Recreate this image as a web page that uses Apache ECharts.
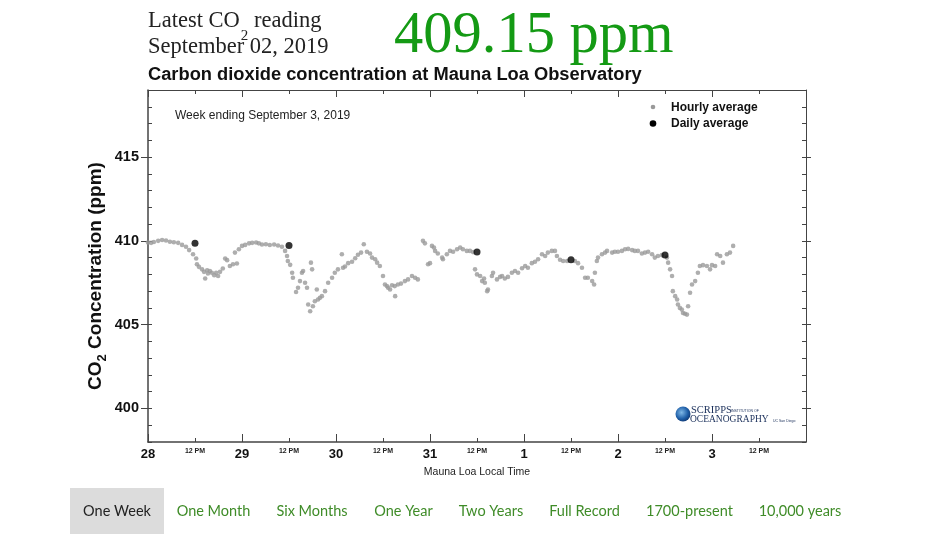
<!DOCTYPE html>
<html>
<head>
<meta charset="utf-8">
<script src="https://cdn.jsdelivr.net/npm/echarts@6/dist/echarts.min.js"></script>
<style>
html,body{margin:0;padding:0;background:#fff;}
#chart{width:925px;height:535px;}
</style>
</head>
<body>
<div id="chart"></div>
<script>
// ---- data ----
// hours since Aug 28 2019 00:00 (Mauna Loa local time)
const hourlyHours = [
 0,0.8,1.5,2.6,3.6,4.6,5.6,6.6,7.7,8.7,9.7,10.5,11.5,12.3,12.5,13.0,13.8,14.3,14.6,15.1,15.3,15.8,16.3,16.9,17.4,17.9,18.4,19.1,19.7,20.2,20.9,21.7,22.7,
 22.2,23.2,24.0,24.8,25.8,26.6,27.6,28.3,29.1,30.1,31.1,32.2,33.2,34.2,35.0,35.5,35.7,36.3,36.8,37.0,37.8,38.3,38.8,39.3,39.6,40.1,40.6,40.9,41.4,41.6,41.9,42.1,42.6,43.1,43.4,43.9,44.4,45.2,46.0,47.0,47.7,
 48.5,49.5,49.8,50.3,51.1,52.1,52.9,53.6,54.4,55.1,55.9,56.7,57.2,58.0,58.5,59.2,60.0,60.5,61.0,61.3,61.8,62.3,63.1,63.0,63.8,64.6,65.6,66.4,67.4,68.2,68.9,
 70.2,70.7,71.5,72.0,72.5,73.0,73.3,74.0,75.1,75.3,76.3,77.1,77.9,78.9,79.7,80.4,81.4,82.2,83.0,
 83.5,84.0,84.8,85.3,85.8,86.0,86.6,86.8,87.8,88.1,89.1,89.9,90.4,91.1,91.9,92.9,93.7,94.5,95.5,96.3,97.0,98.0,98.8,99.6,100.6,101.4,102.1,103.1,103.9,104.4,105.2,106.0,107.0,
 109.0,109.8,110.8,111.6,112.3,113.4,113.9,114.1,114.6,114.9,115.9,116.7,117.2,118.5,119.2,120.0,121.0,121.8,122.6,123.6,124.3,125.1,126.1,126.9,127.7,128.7,129.4,130.2,131.2,
 132.5,132.8,133.3,133.8,134.0,134.6,135.1,135.3,135.8,136.3,136.6,137.1,137.6,137.9,138.4,138.9,139.7,140.4,140.9,141.7,142.7,143.5,144.0,144.8,145.3,146.1,146.8,147.8,148.6,149.4
];
const hourlyPpm = [
 409.9,409.88,409.93,410.0,410.05,410.02,409.95,409.92,409.88,409.76,409.65,409.45,409.2,408.95,408.6,408.45,408.3,408.15,407.75,408.25,408.05,408.2,408.1,407.95,408.1,407.9,408.15,408.35,408.95,408.85,408.5,408.6,408.65,
 409.3,409.5,409.7,409.76,409.85,409.88,409.9,409.85,409.78,409.8,409.75,409.78,409.72,409.65,409.4,409.1,408.8,408.57,408.1,407.8,406.95,407.2,407.6,408.1,408.2,407.5,407.2,406.2,405.8,408.7,408.3,406.1,406.4,407.1,406.5,406.6,406.7,407.0,407.5,407.8,408.1,
 408.3,409.2,408.4,408.47,408.67,408.75,408.96,409.17,409.3,409.8,409.35,409.25,409.0,408.9,408.7,408.5,407.9,407.4,407.3,407.2,407.1,407.35,406.7,407.3,407.4,407.45,407.6,407.7,407.9,407.8,407.7,
 410.0,409.85,408.6,408.67,409.7,409.6,409.4,409.25,409.0,408.9,409.2,409.4,409.35,409.5,409.6,409.5,409.4,409.4,409.33,
 408.3,408.0,407.9,407.6,407.75,407.5,407.0,407.1,407.9,408.1,407.7,407.85,407.9,407.75,407.85,408.1,408.2,408.1,408.37,408.5,408.4,408.67,408.75,408.9,409.2,409.1,409.3,409.4,409.4,409.1,408.87,408.8,408.8,
 408.8,408.67,408.4,407.8,407.8,407.6,407.4,408.1,408.8,409.0,409.2,409.3,409.4,409.3,409.35,409.35,409.4,409.5,409.52,409.45,409.4,409.4,409.25,409.3,409.35,409.2,409.0,409.1,409.15,
 409.0,408.7,408.3,407.9,407.0,406.7,406.5,406.2,406.0,405.9,405.7,405.65,405.6,406.1,406.9,407.4,407.6,408.1,408.5,408.55,408.5,408.3,408.55,408.5,409.2,409.1,408.7,409.2,409.3,409.7
];
const dailyHours = [12, 36, 84, 108, 132];
const dailyPpm = [409.85, 409.72, 409.33, 408.87, 409.15];
const dayLabels = ['28', '29', '30', '31', '1', '2', '3'];
const yMin = 398, yMax = 419, yMajorStep = 5;
const buttons = ['One Week', 'One Month', 'Six Months', 'One Year', 'Two Years', 'Full Record', '1700-present', '10,000 years'];
const buttonCenters = [117, 213.5, 312, 403.5, 491, 584.5, 689.5, 800];

// ---- chart ----
const chart = echarts.init(document.getElementById('chart'), null, {renderer: 'canvas'});
const SANS = '"Liberation Sans", Arial, sans-serif';
const SERIF = '"Liberation Serif", "Times New Roman", serif';
const AX = '#444';

const hourlyData = hourlyHours.map((h, i) => [h, hourlyPpm[i]]);
const dailyData = dailyHours.map((h, i) => [h, dailyPpm[i]]);
const yCats = [];
for (let v = yMin; v <= yMax; v++) yCats.push(String(v));

const mctx = document.createElement('canvas').getContext('2d');
function tw(str, font) { mctx.font = font; return mctx.measureText(str).width; }

function xFmt(v) {
  if (v % 24 === 0) {
    const idx = v / 24;
    return idx < dayLabels.length ? '{d|' + dayLabels[idx] + '}' : '';
  }
  return '{s|12 PM}';
}

const HFONT = '22.5px ' + SERIF;
const SFONT = '15px ' + SERIF;
const w1 = tw('Latest CO', HFONT);
const w2 = tw('2', SFONT);

const graphics = [
  {type: 'text', x: 148, y: 21, style: {text: 'Latest CO', font: HFONT, fill: '#222', textVerticalAlign: 'middle'}},
  {type: 'text', x: 148 + w1 + 1, y: 36, style: {text: '2', font: SFONT, fill: '#222', textVerticalAlign: 'middle'}},
  {type: 'text', x: 148 + w1 + 1 + w2, y: 21, style: {text: ' reading', font: HFONT, fill: '#222', textVerticalAlign: 'middle'}},
  {type: 'text', x: 148, y: 47, style: {text: 'September 02, 2019', font: HFONT, fill: '#222', textVerticalAlign: 'middle'}},
  {type: 'text', x: 394, y: 37, style: {text: '409.15 ppm', font: '58.5px ' + SERIF, fill: '#149a14', textVerticalAlign: 'middle'}},
  {type: 'text', x: 148, y: 75, style: {text: 'Carbon dioxide concentration at Mauna Loa Observatory', font: 'bold 18.3px ' + SANS, fill: '#111', textVerticalAlign: 'middle'}},
  {type: 'text', x: 96, y: 276, rotation: Math.PI / 2,
   style: {text: 'CO{sub|2} Concentration (ppm)', font: 'bold 19px ' + SANS, fill: '#111', textAlign: 'center', textVerticalAlign: 'middle',
     rich: {sub: {fontFamily: SANS, fontWeight: 'bold', fontSize: 13, fill: '#111', padding: [12, 0, 0, 0]}}}},
  {type: 'text', x: 175, y: 116, style: {text: 'Week ending September 3, 2019', font: '12px ' + SANS, fill: '#222', textVerticalAlign: 'middle'}},
  {type: 'circle', shape: {cx: 653, cy: 107, r: 2.3}, style: {fill: '#999'}},
  {type: 'text', x: 671, y: 108, style: {text: 'Hourly average', font: 'bold 12px ' + SANS, fill: '#111', textVerticalAlign: 'middle'}},
  {type: 'circle', shape: {cx: 653, cy: 123.5, r: 3.3}, style: {fill: '#000'}},
  {type: 'text', x: 671, y: 124, style: {text: 'Daily average', font: 'bold 12px ' + SANS, fill: '#111', textVerticalAlign: 'middle'}},
  {type: 'text', x: 477, y: 472, style: {text: 'Mauna Loa Local Time', font: '10.5px ' + SANS, fill: '#222', textAlign: 'center', textVerticalAlign: 'middle'}},
  // Scripps logo
  {type: 'circle', shape: {cx: 683, cy: 414, r: 7.5}, style: {fill: {type: 'radial', x: 0.4, y: 0.4, r: 0.7, colorStops: [{offset: 0, color: '#7fb8e6'}, {offset: 0.6, color: '#1f5fa8'}, {offset: 1, color: '#0c2f66'}]}}},
  {type: 'text', x: 691, y: 410, style: {text: 'SCRIPPS', font: '10.5px ' + SERIF, fill: '#1a2f5a', textVerticalAlign: 'middle'}},
  {type: 'text', x: 731, y: 411, style: {text: 'INSTITUTION OF', font: '3.5px ' + SANS, fill: '#1a2f5a', textVerticalAlign: 'middle'}},
  {type: 'text', x: 690, y: 419.5, style: {text: 'OCEANOGRAPHY', font: '9.5px ' + SERIF, fill: '#1a2f5a', textVerticalAlign: 'middle'}},
  {type: 'text', x: 773, y: 421, style: {text: 'UC San Diego', font: '3.5px ' + SANS, fill: '#1a2f5a', textVerticalAlign: 'middle'}},
  // buttons
  {type: 'rect', shape: {x: 70, y: 488, width: 94, height: 46}, style: {fill: '#dcdcdc'}}
];
buttons.forEach((b, i) => {
  graphics.push({type: 'text', x: buttonCenters[i], y: 511, style: {text: b, font: '14.5px Lato, sans-serif', fill: i === 0 ? '#222' : '#3f8c28', textAlign: 'center', textVerticalAlign: 'middle'}});
});

function majorCatAxis(pos, len) {
  return {type: 'category', position: pos, data: yCats, boundaryGap: false, offset: 0,
    axisLine: {show: false, onZero: false},
    axisTick: {show: true, inside: false, length: len, interval: (i, v) => Number(v) % yMajorStep === 0, lineStyle: {color: AX}},
    axisLabel: {show: false}, splitLine: {show: false}};
}

const option = {
  animation: false,
  backgroundColor: '#fff',
  grid: {left: 148, right: 119, top: 90, bottom: 93, containLabel: false},
  xAxis: [
    {type: 'value', position: 'bottom', min: 0, max: 168, interval: 12, offset: 0,
     axisLine: {show: true, onZero: false, lineStyle: {color: AX, width: 1.5}},
     axisTick: {show: true, inside: true, length: 4, lineStyle: {color: AX}},
     splitLine: {show: false},
     axisLabel: {show: true, margin: 6, formatter: xFmt,
       rich: {d: {fontFamily: SANS, fontWeight: 'bold', fontSize: 13, color: '#111'},
              s: {fontFamily: SANS, fontWeight: 'bold', fontSize: 7, color: '#222'}}}},
    {type: 'value', position: 'bottom', min: 0, max: 168, interval: 24, offset: 0,
     axisLine: {show: false, onZero: false}, axisTick: {show: true, inside: true, length: 8, lineStyle: {color: AX}},
     splitLine: {show: false}, axisLabel: {show: false}},
    {type: 'value', position: 'top', min: 0, max: 168, interval: 12, offset: 0,
     axisLine: {show: true, onZero: false, lineStyle: {color: AX, width: 1}},
     axisTick: {show: true, inside: true, length: 4, lineStyle: {color: AX}},
     splitLine: {show: false}, axisLabel: {show: false}},
    {type: 'value', position: 'top', min: 0, max: 168, interval: 24, offset: 0,
     axisLine: {show: false, onZero: false}, axisTick: {show: true, inside: true, length: 7, lineStyle: {color: AX}},
     splitLine: {show: false}, axisLabel: {show: false}}
  ],
  yAxis: [
    {type: 'value', position: 'left', min: yMin, max: yMax, interval: 1, offset: 0,
     axisLine: {show: true, onZero: false, lineStyle: {color: AX, width: 1.5}},
     axisTick: {show: true, inside: true, length: 4, lineStyle: {color: AX}},
     axisLabel: {show: true, margin: 9, formatter: v => (v % yMajorStep === 0 ? String(v) : ''),
       fontFamily: SANS, fontWeight: 'bold', fontSize: 14.5, color: '#111'},
     splitLine: {show: false}},
    majorCatAxis('left', 7),
    {type: 'value', position: 'right', min: yMin, max: yMax, interval: 1, offset: 0,
     axisLine: {show: true, onZero: false, lineStyle: {color: AX, width: 1}},
     axisTick: {show: true, inside: true, length: 4, lineStyle: {color: AX}},
     axisLabel: {show: false}, splitLine: {show: false}},
    majorCatAxis('right', 5)
  ],
  series: [
    {name: 'Hourly average', type: 'scatter', xAxisIndex: 0, yAxisIndex: 0, data: hourlyData,
     symbolSize: 4.6, itemStyle: {color: '#9a9a9a'}, silent: true},
    {name: 'Daily average', type: 'scatter', xAxisIndex: 0, yAxisIndex: 0, data: dailyData,
     symbolSize: 7, itemStyle: {color: '#000'}, silent: true, z: 3}
  ],
  graphic: graphics
};
chart.setOption(option);
</script>
</body>
</html>
